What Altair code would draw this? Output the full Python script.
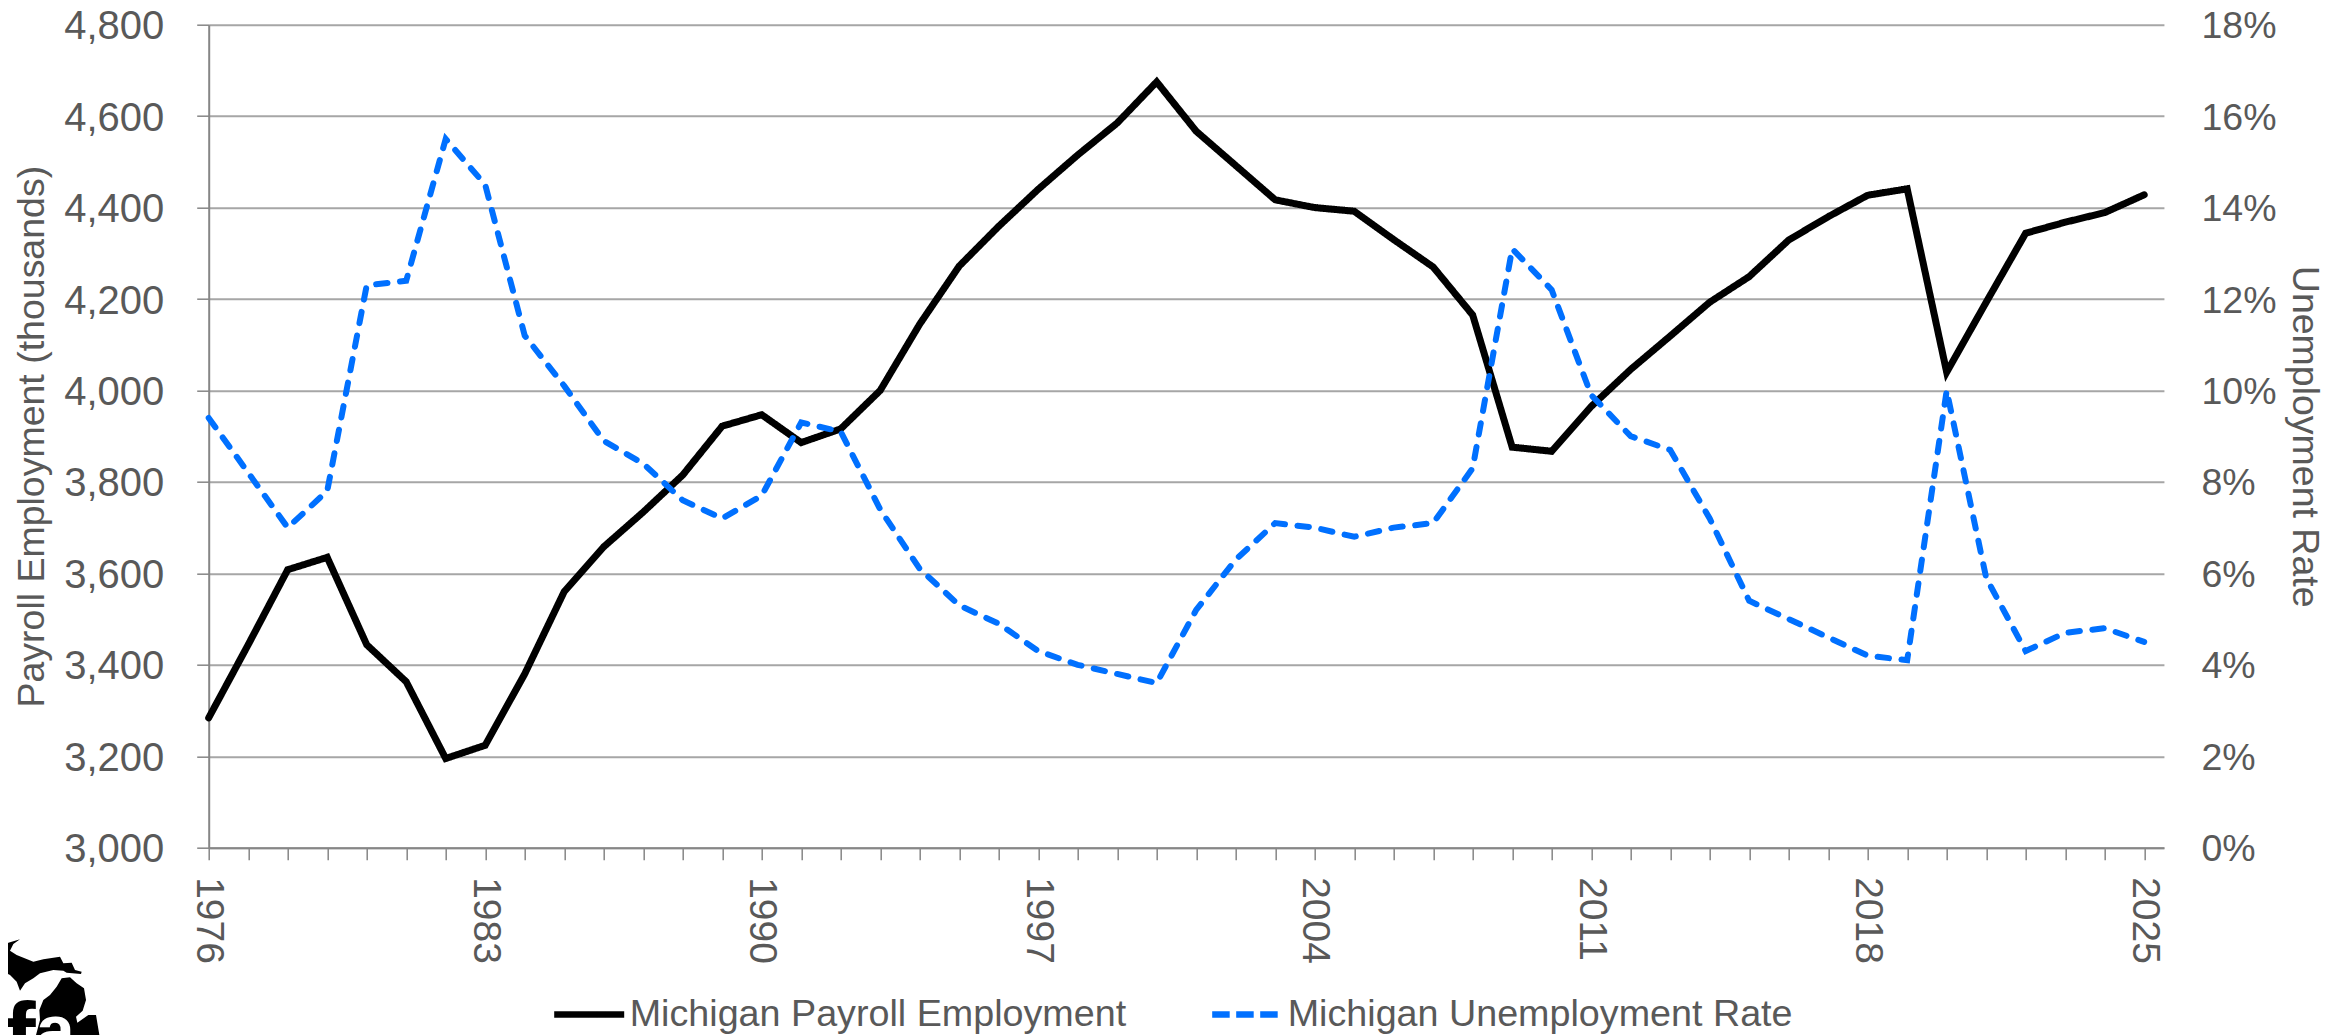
import altair as alt
import pandas as pd

years = list(range(1976, 2026))
employment = [3284, 3444, 3608, 3635, 3444, 3363, 3195, 3224, 3380, 3560,
              3658, 3734, 3815, 3922, 3947, 3886, 3916, 4000, 4145, 4272,
              4359, 4440, 4515, 4585, 4675, 4567, 4492, 4417, 4400, 4392,
              4330, 4270, 4165, 3876, 3867, 3965, 4046, 4119, 4193, 4249,
              4329, 4380, 4427, 4441, 4040, 4193, 4344, 4368, 4389, 4428]
unemployment = [9.4, 8.2, 7.0, 7.8, 12.3, 12.4, 15.5, 14.5, 11.2, 10.1,
                8.9, 8.4, 7.6, 7.2, 7.7, 9.3, 9.1, 7.4, 6.1, 5.3,
                4.9, 4.3, 4.0, 3.8, 3.6, 5.2, 6.3, 7.1, 7.0, 6.8,
                7.0, 7.1, 8.3, 13.1, 12.2, 9.9, 9.0, 8.7, 7.2, 5.4,
                5.0, 4.6, 4.2, 4.1, 10.0, 5.9, 4.3, 4.7, 4.8, 4.5]
S1 = "Michigan Payroll Employment"
S2 = "Michigan Unemployment Rate"
GREY = "#595959"
FONT = "Liberation Sans"

upper_pen = [(0,88),(25,68),(60,58),(40,72),(30,92),(50,105),(100,125),(130,118),(180,110),(190,130),
             (215,128),(225,150),(245,155),(243,162),(200,158),(190,152),(160,150),(120,160),(100,175),
             (75,190),(60,212),(50,185),(30,165),(0,150)]
lower_pen = [(170,200),(185,175),(210,172),(230,190),(252,205),(258,240),(248,272),(228,290),(232,308),
             (265,285),(288,285),(298,345),(108,345),(120,300),(118,270),(130,240),(150,225)]

def to_path(pts):
    return "M" + "L".join(f"{(x/3-50)/50:.3f},{(y/3+920-985)/50:.3f}" for x, y in pts) + "Z"
logo_path = to_path(upper_pen) + to_path(lower_pen)

df = pd.DataFrame({"year": years * 2,
                   "series": [S1] * len(years) + [S2] * len(years),
                   "value": employment + unemployment})

x = alt.X("year:Q", scale=alt.Scale(domain=[1976, 2025.5], nice=False, zero=False),
          axis=alt.Axis(values=years, title=None, grid=False, labelAngle=90,
                        labelExpr="(datum.value-1976)%7==0 ? format(datum.value,'d') : ''",
                        labelOverlap=False, labelBound=False, labelFlush=False,
                        labelPadding=17, labelFontSize=39, labelColor=GREY, labelFont=FONT,
                        tickSize=12, tickColor="#868686", tickWidth=1.5,
                        domainColor="#868686", domainWidth=2))

legend_common = dict(title=None, orient="none", legendX=342, legendY=951, direction="horizontal",
                     columns=2, symbolType="stroke", symbolSize=4900, symbolStrokeWidth=6.5,
                     labelFontSize=37.7, labelColor=GREY, labelFont=FONT, labelLimit=800,
                     labelOffset=2, columnPadding=72)
color = alt.Color("series:N", scale=alt.Scale(domain=[S1, S2], range=["#000000", "#0070FF"]),
                  legend=alt.Legend(**legend_common))
dash = alt.StrokeDash("series:N", scale=alt.Scale(domain=[S1, S2], range=[[1, 0], [17.5, 6.5]]),
                      legend=alt.Legend(**legend_common))

left = alt.Chart(df).transform_filter(alt.datum.series == S1).mark_line(
    strokeWidth=7, strokeCap="round", strokeJoin="miter").encode(
    x=x,
    y=alt.Y("value:Q", scale=alt.Scale(domain=[3000, 4800], nice=False, zero=False),
            axis=alt.Axis(values=list(range(3000, 5000, 200)), format=",d", title="Payroll Employment (thousands)",
                          grid=True, gridColor="#A6A6A6", gridWidth=2,
                          tickSize=12, tickColor="#868686", tickWidth=1.5,
                          domainColor="#868686", domainWidth=2,
                          labelPadding=33, labelFontSize=40, labelOffset=2,
                          labelColor=GREY, labelFont=FONT,
                          titleFontSize=37.5, titleColor=GREY, titleFont=FONT, titleFontWeight="normal",
                          titlePadding=12)),
    color=color, strokeDash=dash)

right = alt.Chart(df).transform_filter(alt.datum.series == S2).mark_line(
    strokeWidth=6, strokeCap="round", strokeJoin="miter", strokeDash=[11.5, 12.5]).encode(
    x=x,
    y=alt.Y("value:Q", scale=alt.Scale(domain=[0, 18], nice=False),
            axis=alt.Axis(orient="right", values=list(range(0, 20, 2)),
                          labelExpr="datum.value + '%'", title="Unemployment Rate",
                          grid=False, domain=False, ticks=False,
                          labelPadding=37, labelFontSize=37.5, labelOffset=2,
                          labelColor=GREY, labelFont=FONT,
                          titleFontSize=37.5, titleColor=GREY, titleFont=FONT, titleFontWeight="normal",
                          titlePadding=9)),
    color=color)

one = alt.Chart(pd.DataFrame({"a": [0]}))
logo = one.mark_point(shape=logo_path, size=10000, filled=True, fill="#000000", opacity=1,
                      strokeWidth=0).encode(x=alt.value(50 - 208.7), y=alt.value(985 - 24.7))
logo_f = one.mark_text(text="f", font=FONT, fontWeight="bold", fontSize=95, color="#000000",
                       align="left", baseline="alphabetic").encode(
    x=alt.value(4 - 208.7), y=alt.value(1069 - 24.7))
logo_a = one.mark_text(text="a", font=FONT, fontWeight="bold", fontSize=70, color="#FFFFFF",
                       align="left", baseline="alphabetic").encode(
    x=alt.value(36 - 208.7), y=alt.value(1054 - 24.7))

chart = alt.layer(left, right, logo, logo_f, logo_a).resolve_scale(y="independent").properties(
    width=1955.25, height=823,
    autosize=alt.AutoSizeParams(type="none"),
    padding={"left": 200.7, "top": 16.7, "right": 172, "bottom": 187},
).configure_view(stroke=None)

chart.save("out.html", embed_options={"renderer": "svg", "actions": False})
